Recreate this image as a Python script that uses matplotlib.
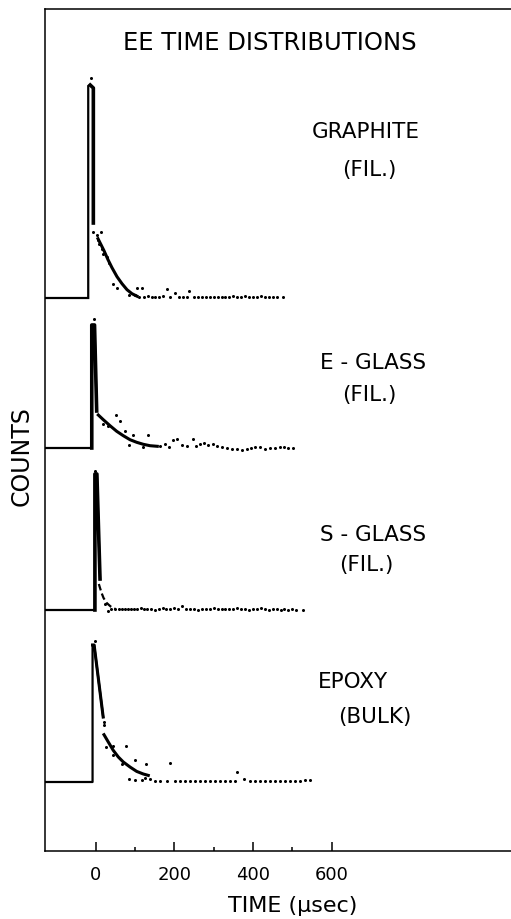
import matplotlib
matplotlib.use("Agg")
import matplotlib.pyplot as plt
from matplotlib.ticker import FixedLocator

plt.rcParams['font.family'] = ['DejaVu Sans']

# ---------------- data (time in microseconds, counts in arbitrary units) ----------------
materials = ["GRAPHITE", "E - GLASS", "S - GLASS", "EPOXY"]
sublabels = ["(FIL.)", "(FIL.)", "(FIL.)", "(BULK)"]

# GRAPHITE
g_spike_t = [-135, -19, -19, -14, -6, -6]
g_spike_c = [0, 0, 212, 213, 210, 75]
g_fit_t = [5.8, 13.5, 21.1, 31.3, 41.4, 54.2, 66.9, 79.6, 92.3, 105]
g_fit_c = [59.3, 53.3, 47.3, 38.3, 30.3, 21.3, 14.3, 8.3, 4.3, 1.8]
g_pts_t = [-12, -6, 12.7, 2.5, 6.6, 9.2, 15.3, 19.3, 28, 34.6, 44.7, 54.9, 85.4, 100, 104, 117,
           180.5, 201.6, 238,
           110, 122, 132, 142, 152, 162, 172, 190, 212, 222, 232, 250, 260, 270, 280, 290,
           300, 310, 320, 330, 340, 350, 360, 370, 380, 390, 400, 410, 420, 430, 440, 450,
           460, 476]
g_pts_c = [220, 66, 66, 62.6, 57.6, 54.3, 49.3, 44.3, 41, 35, 14.3, 10.3, 2.6, 2.6, 10, 10,
           9.3, 5, 7,
           1.5, 1, 2, 1.5, 1, 1.5, 2, 1.5, 1, 1.5, 1, 1.5, 1, 1.5, 1, 1.5,
           1.5, 1, 1.5, 1, 1.5, 2, 1.5, 1.5, 2.5, 1.5, 1.5, 1, 2.5, 1.5, 1, 1.5,
           1, 1]

# E - GLASS
e_spike_t = [-135, -10, -10, -3, 2.5]
e_spike_c = [0, 0, 123, 123, 37]
e_fit_t = [6.6, 19.3, 36.4, 53.4, 70.2, 87.2, 104.2, 121, 138, 156.6]
e_fit_c = [33, 28.3, 22.3, 16.7, 12.3, 8.3, 5.7, 3.7, 2.3, 1.7]
e_pts_t = [-4.3, 51.6, 61.8, 17.8, 32, 74.5, 95.6, 132.2, 85.4, 119.5, 163.5, 176.2, 187.1,
           197.3, 207.5, 218.7, 231.4, 246.6, 254.3, 265.2, 275.4, 286.3, 297.5, 309.2,
           320.4, 333.1, 345.8, 358.5, 371.2, 383.9, 394.1, 405, 417.7, 430.4, 443.1,
           455.8, 468.5, 478.7, 489.7, 500.9]
e_pts_c = [129, 33, 27.3, 24, 22.3, 16.7, 13, 13.3, 3, 0.7, 1.7, 4, 1.3,
           8, 9, 3, 1.7, 9, 2.3, 4, 5, 3, 4, 2.3,
           0.7, -0.3, -1, -1, -1.7, -1, 0, 0.7, 0.7, -1, -0.3,
           -0.3, 0.7, 1.3, -0.3, -0.3]

# S - GLASS
s_spike_t = [-135, -2, -2, 3, 11]
s_spike_c = [0, 0, 136, 136, 31]
s_tail_t = [8, 11, 15, 20, 28, 38, 50]
s_tail_c = [26, 22, 17, 12, 7, 3.5, 1]
s_pts_t = [-1.8, 23.7, 30, 40, 50, 58, 66, 74, 82, 90, 98, 106, 114, 122, 130, 140, 150, 160,
           170, 180, 190, 200, 210, 220, 230, 240, 250, 260, 270, 280, 290, 300, 310, 320,
           330, 340, 350, 360, 370, 380, 390, 400, 410, 420, 430, 440, 450, 460, 470, 480,
           490, 500, 510, 527]
s_pts_c = [139, 6.4, -1, 1, 1.5, 1, 1.5, 1, 1.5, 1, 1, 1.5, 2.5, 1, 1.5, 1, 0.5, 1.5,
           2.5, 1.5, 1, 2, 1.5, 4, 1, 1.5, 1, 0.5, 1.5, 1, 1.5, 2.5, 1, 1.5,
           1, 1.5, 1, 2, 1, 1.5, 0.5, 1.5, 1, 2, 1, 0.5, 1.5, 1, 0, 1,
           0.5, 1, 0, 0.5]

# EPOXY
p_spike_t = [-135, -8, -8, -4, 19]
p_spike_c = [0, 0, 137, 137, 65]
p_fit_t = [21.1, 32, 44.7, 57.5, 70.2, 87.2, 104.2, 121, 133.7]
p_fit_c = [47.3, 40, 31.6, 25, 20, 15, 10.6, 8, 6.6]
p_pts_t = [-1.8, 20.5, 21.9, 26.2, 43.2, 44.7, 77, 66.1, 99.9, 127.1, 189, 85.4, 99.9, 117,
           125.3, 138, 150.8, 163.5, 180.5,
           201.6, 214, 227, 240, 252, 265, 278, 290, 303, 316, 328, 341, 354, 360, 377,
           392, 405, 418, 430, 443, 456, 468, 481, 494, 506, 519, 532, 545]
p_pts_c = [140.6, 60, 56.6, 35, 36, 27.3, 35.6, 18.3, 21.6, 17.6, 18.6, 3.3, 1.6, 2.3,
           4, 2.6, 1, 0.6, 1,
           1.3, 1, 1.3, 1, 1.3, 1.3, 1, 1.3, 1.3, 1.3, 1.3, 1.3, 1.3, 10, 3,
           1.3, 1.3, 1.3, 1.3, 1.3, 1.3, 1.3, 1.3, 1.3, 1.3, 1.3, 2, 2]

xticks_major = [0, 200, 400, 600]
xticks_minor = [100, 300, 500]

# ---------------- layout ----------------
W, H = 511, 920
fig = plt.figure(figsize=(W / 100, H / 100), dpi=100)

ax_left, ax_top, ax_bottom = 45, 10, 852          # pixel positions
ax = fig.add_axes([ax_left / W, 1 - ax_bottom / H, 1 - ax_left / W + 0.002,
                   (ax_bottom - ax_top) / H])
x0_px, px_per_us = 95.7, 0.3933
xmin = (ax_left - x0_px) / px_per_us
xmax = (W + 1 - x0_px) / px_per_us
ax.set_xlim(xmin, xmax)
ax.set_ylim(0, ax_bottom - ax_top)

# vertical offsets of each trace (baseline pixel rows)
baselines_px = [299, 449, 611, 783]
offs = [ax_bottom - b for b in baselines_px]

def sh(vals, k):
    return [v + offs[k] for v in vals]

lw_base = 1.6
ms = 2.2
col = 'black'

# GRAPHITE
ax.plot(g_spike_t, sh(g_spike_c, 0), color=col, lw=lw_base, solid_joinstyle='miter')
ax.plot(g_spike_t[3:], sh(g_spike_c[3:], 0), color=col, lw=2.6)
ax.plot(g_fit_t, sh(g_fit_c, 0), color=col, lw=2.2)
ax.plot(g_pts_t, sh(g_pts_c, 0), ls='none', marker='o', ms=ms, color=col, mew=0)

# E - GLASS
ax.plot(e_spike_t, sh(e_spike_c, 1), color=col, lw=lw_base)
ax.plot(e_spike_t[1:], sh(e_spike_c[1:], 1), color=col, lw=2.6)
ax.plot(e_fit_t, sh(e_fit_c, 1), color=col, lw=2.2)
ax.plot(e_pts_t, sh(e_pts_c, 1), ls='none', marker='o', ms=ms, color=col, mew=0)

# S - GLASS
ax.plot(s_spike_t, sh(s_spike_c, 2), color=col, lw=lw_base)
ax.plot(s_spike_t[1:], sh(s_spike_c[1:], 2), color=col, lw=2.6)
ax.plot(s_tail_t, sh(s_tail_c, 2), color=col, lw=1.6, ls=(0, (3, 1.5)))
ax.plot(s_pts_t, sh(s_pts_c, 2), ls='none', marker='o', ms=ms, color=col, mew=0)

# EPOXY
ax.plot(p_spike_t, sh(p_spike_c, 3), color=col, lw=lw_base)
ax.plot(p_spike_t[2:], sh(p_spike_c[2:], 3), color=col, lw=2.2)
ax.plot(p_fit_t, sh(p_fit_c, 3), color=col, lw=2.2)
ax.plot(p_pts_t, sh(p_pts_c, 3), ls='none', marker='o', ms=ms, color=col, mew=0)

# axes styling
for s in ['left', 'top', 'bottom']:
    ax.spines[s].set_linewidth(1.1)
ax.spines['right'].set_visible(False)
ax.set_yticks([])
ax.xaxis.set_major_locator(FixedLocator(xticks_major))
ax.xaxis.set_minor_locator(FixedLocator(xticks_minor))
ax.tick_params(axis='x', which='major', direction='in', length=6.5, width=1.1,
               labelsize=13, pad=10)
ax.tick_params(axis='x', which='minor', direction='in', length=3.2, width=1.1)

def ftext(x, y, s, size, **kw):
    fig.text(x / W, 1 - y / H, s, fontsize=size, ha='center', va='center', **kw)

ftext(270, 43, "EE TIME DISTRIBUTIONS", 17.5)
label_pos = [(366, 132), (373, 363), (373, 535), (353, 682)]
sub_pos = [(369, 170), (369, 395), (366, 565), (375, 717)]
for name, sub, (lx, ly), (sx, sy) in zip(materials, sublabels, label_pos, sub_pos):
    ftext(lx, ly, name, 15.5)
    ftext(sx, sy, sub, 15.5)
ftext(22, 456, "COUNTS", 17, rotation=90)
ftext(293, 906, "TIME (μsec)", 16)

fig.savefig("out.png", dpi=100)
